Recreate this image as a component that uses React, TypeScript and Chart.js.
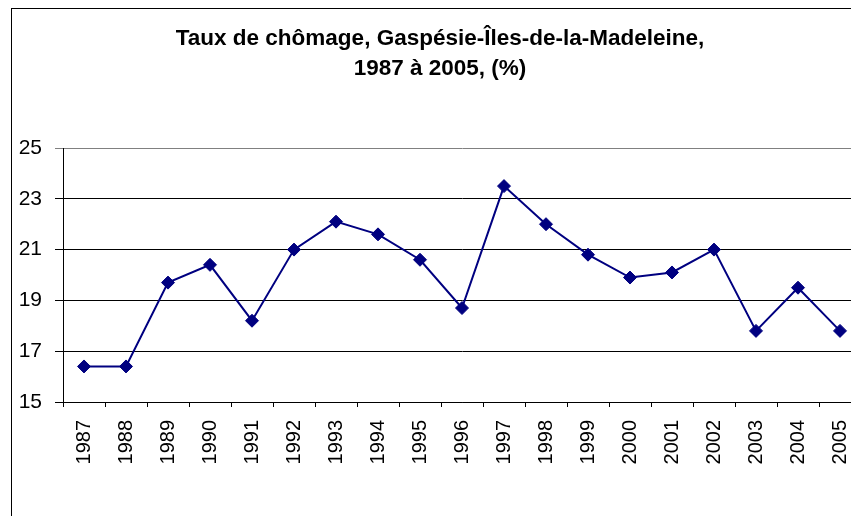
import React, { useEffect, useRef } from "react";
import { Chart, registerables } from "chart.js";

Chart.register(...registerables);

const TITLE_LINES = ["Taux de chômage, Gaspésie-Îles-de-la-Madeleine,", "1987 à 2005, (%)"];
const YEARS = ["1987","1988","1989","1990","1991","1992","1993","1994","1995","1996","1997","1998","1999","2000","2001","2002","2003","2004","2005"];
const RATES = [16.4, 16.4, 19.7, 20.4, 18.2, 21.0, 22.1, 21.6, 20.6, 18.7, 23.5, 22.0, 20.8, 19.9, 20.1, 21.0, 17.8, 19.5, 17.8];
const Y_MIN = 15;
const Y_MAX = 25;
const Y_STEP = 2;

const FONT = "'Liberation Sans', Arial, sans-serif";

export default function App() {
  const ref = useRef<HTMLCanvasElement | null>(null);

  useEffect(() => {
    document.body.style.overflow = "hidden";
    document.documentElement.style.overflow = "hidden";
    const canvas = ref.current;
    if (!canvas) return;
    const chart = new Chart(canvas, {
      type: "line",
      data: {
        labels: YEARS,
        datasets: [
          {
            data: RATES,
            borderColor: "#000080",
            backgroundColor: "#000080",
            borderWidth: 2,
            pointStyle: "rectRot",
            pointRadius: 6.5,
            pointBorderWidth: 1,
            pointBackgroundColor: "#000080",
            pointBorderColor: "#000080",
            tension: 0,
            fill: false,
          },
        ],
      },
      options: {
        animation: false,
        responsive: false,
        maintainAspectRatio: false,
        layout: { padding: { left: 7, right: 11, top: 0, bottom: 0 } },
        plugins: {
          legend: { display: false },
          tooltip: { enabled: false },
          title: {
            display: true,
            text: TITLE_LINES,
            color: "#000000",
            font: { family: FONT, size: 22.5, weight: "bold", lineHeight: 1.3334 },
            padding: { top: 15, bottom: 64 },
          },
        },
        scales: {
          x: {
            type: "category",
            offset: true,
            grid: {
              display: true,
              drawOnChartArea: false,
              drawTicks: true,
              tickLength: 5,
              offset: true,
              color: "#000000",
              lineWidth: 1,
            },
            border: { display: true, color: "#000000", width: 1 },
            ticks: {
              color: "#000000",
              font: { family: FONT, size: 20 },
              minRotation: 90,
              maxRotation: 90,
              padding: 13,
              autoSkip: false,
            },
            afterFit: (scale: any) => {
              scale.height = 145;
              scale.paddingRight = 0;
              scale.paddingLeft = 0;
            },
          },
          y: {
            min: Y_MIN,
            max: Y_MAX,
            grid: {
              display: true,
              drawOnChartArea: true,
              drawTicks: true,
              tickLength: 8,
              color: (ctx: any) => (ctx.tick && ctx.tick.value === Y_MAX ? "#808080" : "#000000"),
              lineWidth: 1,
            },
            border: { display: true, color: "#000000", width: 1 },
            ticks: {
              stepSize: Y_STEP,
              color: "#000000",
              font: { family: FONT, size: 21 },
              padding: 13,
            },
            afterFit: (scale: any) => {
              scale.width = 44;
            },
          },
        },
      },
    });
    return () => chart.destroy();
  }, []);

  return (
    <div
      style={{
        position: "fixed",
        left: 0,
        top: 0,
        width: 851,
        height: 516,
        overflow: "hidden",
        background: "#ffffff",
      }}
    >
      <div
        style={{
          position: "absolute",
          left: 11,
          top: 8,
          width: 860,
          height: 538,
          border: "1px solid #000000",
          background: "#ffffff",
        }}
      >
        <canvas ref={ref} width={860} height={538} style={{ display: "block", width: 860, height: 538 }} />
      </div>
    </div>
  );
}
